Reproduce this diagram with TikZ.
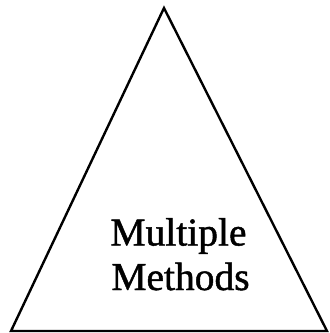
\documentclass[tikz,border=0pt]{standalone}
\usepackage{fontspec}
\setmainfont{Liberation Serif}
\newfontfamily\scanfont[FakeBold=1.2]{Liberation Serif}
\begin{document}
\begin{tikzpicture}[x=1pt,y=-1pt,
  tri/.style={draw=black,line width=2.4pt,line join=miter},
  lbl/.style={font=\scanfont\fontsize{39.5}{45}\selectfont,inner sep=0pt,anchor=base}]
\useasboundingbox (0,0) rectangle (330,333);
\coordinate (apex) at (164,8);
\coordinate (bl) at (11,331);
\coordinate (br) at (327,331);
\draw[tri] (apex) -- (bl) -- (br) -- cycle;
\node[lbl] (l1) at (178.5,245.5) {Multiple};
\node[lbl] (l2) at (180.5,290) {Methods};
\end{tikzpicture}
\end{document}
